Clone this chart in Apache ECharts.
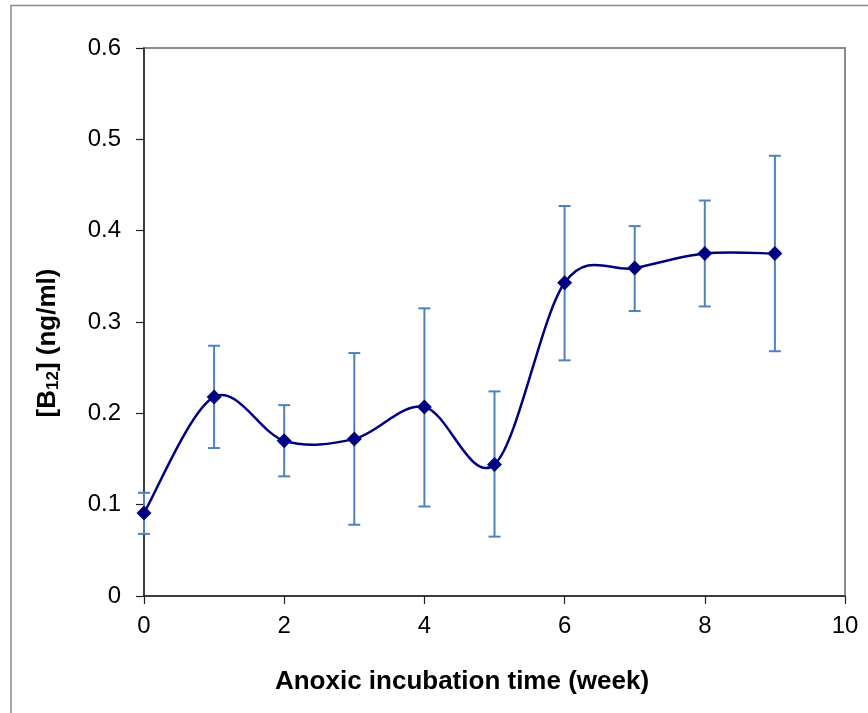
<!DOCTYPE html>
<html>
<head>
<meta charset="utf-8">
<script src="https://cdn.jsdelivr.net/npm/echarts@6/dist/echarts.min.js"></script>
<style>
html,body{margin:0;padding:0;background:#fff;}
#chart{width:868px;height:713px;}
</style>
</head>
<body>
<div id="chart"></div>
<script>
const weeks = [0, 1, 2, 3, 4, 5, 6, 7, 8, 9];
const means = [0.091, 0.218, 0.170, 0.172, 0.207, 0.144, 0.343, 0.359, 0.375, 0.375];
const upper = [0.113, 0.274, 0.209, 0.266, 0.315, 0.224, 0.427, 0.405, 0.433, 0.482];
const lower = [0.068, 0.162, 0.131, 0.078, 0.098, 0.065, 0.258, 0.312, 0.317, 0.268];
const xTicks = [0, 2, 4, 6, 8, 10];
const yTicks = [0, 0.1, 0.2, 0.3, 0.4, 0.5, 0.6];
const xTitle = 'Anoxic incubation time (week)';

const FONT = "'Liberation Sans', Arial, sans-serif";
const chart = echarts.init(document.getElementById('chart'));

const lineData = weeks.map((w, i) => [w, means[i]]);
const errData = weeks.map((w, i) => [w, lower[i], upper[i]]);
// segment i goes from point i to point i+1
const segData = weeks.slice(0, -1).map((w, i) => [w, means[i]]);

chart.setOption({
  animation: false,
  backgroundColor: '#fff',
  grid: {
    left: 144, right: 23, top: 48, bottom: 117,
    show: true, borderColor: '#8c8c8c', borderWidth: 2, backgroundColor: '#fff'
  },
  xAxis: {
    type: 'value',
    min: xTicks[0], max: xTicks[xTicks.length - 1], interval: 2,
    axisLine: { show: true, onZero: false, lineStyle: { color: '#222', width: 1.5 } },
    axisTick: { show: true, length: 8, lineStyle: { color: '#222', width: 1.2 } },
    axisLabel: { fontFamily: FONT, fontSize: 24, color: '#000', margin: 18 },
    splitLine: { show: false }
  },
  yAxis: {
    type: 'value',
    min: yTicks[0], max: yTicks[yTicks.length - 1], interval: 0.1,
    axisLine: { show: true, onZero: false, lineStyle: { color: '#222', width: 1.5 } },
    axisTick: { show: true, length: 8, lineStyle: { color: '#222', width: 1.2 } },
    axisLabel: { fontFamily: FONT, fontSize: 24, color: '#000', margin: 23,
      formatter: v => (Math.round(v * 10) / 10).toString() },
    splitLine: { show: false }
  },
  graphic: [
    {
      type: 'rect', silent: true, z: -10,
      shape: { x: 11, y: 5.5, width: 1000, height: 1000 },
      style: { fill: 'none', stroke: '#8a8a8a', lineWidth: 1.5 }
    },
    {
      type: 'text', x: 462, y: 682,
      style: {
        text: xTitle, fontFamily: FONT, fontSize: 26, fontWeight: 'bold',
        fill: '#000', align: 'center', verticalAlign: 'middle'
      }
    },
    {
      type: 'text', x: 48, y: 343, rotation: Math.PI / 2,
      style: {
        text: '{b|[B}{s|12}{b|] (ng/ml)}',
        align: 'center', verticalAlign: 'middle',
        rich: {
          b: { fontFamily: FONT, fontSize: 26, fontWeight: 'bold', fill: '#000', lineHeight: 30 },
          s: { fontFamily: FONT, fontSize: 17, fontWeight: 'bold', fill: '#000', lineHeight: 30, padding: [10, 0, 0, 0] }
        }
      }
    }
  ],
  series: [
    {
      type: 'custom',
      z: 2,
      data: errData,
      encode: { x: 0, y: [1, 2] },
      renderItem: function (params, api) {
        const x = api.value(0);
        const pLo = api.coord([x, api.value(1)]);
        const pHi = api.coord([x, api.value(2)]);
        const w = 6;
        const st = { stroke: '#4f81bd', lineWidth: 2 };
        return {
          type: 'group',
          children: [
            { type: 'line', shape: { x1: pHi[0], y1: pHi[1], x2: pLo[0], y2: pLo[1] }, style: st },
            { type: 'line', shape: { x1: pHi[0] - w, y1: pHi[1], x2: pHi[0] + w, y2: pHi[1] }, style: st },
            { type: 'line', shape: { x1: pLo[0] - w, y1: pLo[1], x2: pLo[0] + w, y2: pLo[1] }, style: st }
          ]
        };
      }
    },
    {
      // smoothed connecting curve (Catmull-Rom through the data points)
      type: 'custom',
      z: 3,
      data: segData,
      encode: { x: 0, y: 1 },
      renderItem: function (params, api) {
        const i = params.dataIndex;
        const n = weeks.length;
        const P = k => {
          const kk = Math.max(0, Math.min(n - 1, k));
          return api.coord([weeks[kk], means[kk]]);
        };
        const p0 = P(i - 1), p1 = P(i), p2 = P(i + 1), p3 = P(i + 2);
        const t = 1 / 6;
        return {
          type: 'bezierCurve',
          shape: {
            x1: p1[0], y1: p1[1], x2: p2[0], y2: p2[1],
            cpx1: p1[0] + (p2[0] - p0[0]) * t, cpy1: p1[1] + (p2[1] - p0[1]) * t,
            cpx2: p2[0] - (p3[0] - p1[0]) * t, cpy2: p2[1] - (p3[1] - p1[1]) * t
          },
          style: { stroke: '#000080', lineWidth: 2.5, fill: 'none' }
        };
      }
    },
    {
      type: 'scatter',
      z: 4,
      data: lineData,
      symbol: 'diamond',
      symbolSize: 15,
      itemStyle: { color: '#000080', opacity: 1 }
    }
  ]
});
</script>
</body>
</html>
